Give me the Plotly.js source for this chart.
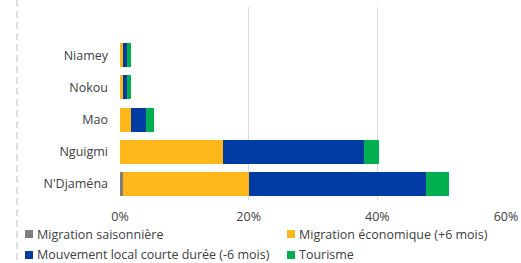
<!DOCTYPE html>
<html><head><meta charset="utf-8">
<script src="https://cdn.plot.ly/plotly-3.0.1.min.js"></script>
<style>html,body{margin:0;padding:0;background:#fff}#chart{width:521px;height:263px}</style>
</head><body><div id="chart"></div>
<script>
// categories listed bottom to top
const categories = ["N'Djaména", "Nguigmi", "Mao", "Nokou", "Niamey"];
const seriesNames = ["Migration saisonnière", "Migration économique (+6 mois)", "Mouvement local courte durée (-6 mois)", "Tourisme"];
const saisonniere = [0.5, 0, 0, 0, 0];
const economique = [19.6, 16.0, 1.7, 0.5, 0.5];
const localCourte = [27.4, 22.0, 2.3, 0.6, 0.6];
const tourisme = [3.6, 2.3, 1.3, 0.6, 0.6];
const xTicks = [0, 20, 40, 60];
const colors = ["#7f7f7f", "#fdb71a", "#003aa3", "#00b050"];

const W = 521, H = 263;
const L = 120, R = 15, T = 7, B = 63;
const font = "Open Sans, Liberation Sans, Arial, sans-serif";
const textColor = "#404040";
const yIdx = categories.map((c, i) => i);
const series = [saisonniere, economique, localCourte, tourisme];

const traces = series.map((vals, k) => ({
  type: 'bar', orientation: 'h', name: seriesNames[k],
  y: yIdx, x: vals, width: 0.75,
  marker: {color: colors[k], line: {width: 0}},
  showlegend: false, hoverinfo: 'skip'
}));

const pw = W - L - R, ph = H - T - B;
const px2x = p => (p - L) / pw;
const px2y = p => 1 - (p - T) / ph;

const shapes = [{
  type: 'line', xref: 'paper', yref: 'paper',
  x0: px2x(17), x1: px2x(17), y0: px2y(0), y1: px2y(263),
  line: {color: '#cccccc', width: 1.2, dash: '7px,4px'}
}];
const annotations = [];
const legendPos = [[25, 234], [287, 234], [25, 255], [287, 255]];
legendPos.forEach(([lx, ly], k) => {
  shapes.push({type: 'rect', xref: 'paper', yref: 'paper',
    x0: px2x(lx), x1: px2x(lx + 8), y0: px2y(ly - 4), y1: px2y(ly + 4),
    fillcolor: colors[k], line: {width: 0}});
  annotations.push({xref: 'paper', yref: 'paper', x: px2x(lx + 11), y: px2y(ly),
    xanchor: 'left', yanchor: 'middle', showarrow: false, text: seriesNames[k],
    borderpad: 0, font: {family: font, size: 12.5, color: textColor}});
});

const layout = {
  width: W, height: H, margin: {l: L, r: R, t: T, b: B},
  barmode: 'stack', showlegend: false,
  paper_bgcolor: '#fff', plot_bgcolor: '#fff',
  font: {family: font, size: 12.5, color: textColor},
  xaxis: {range: [0, 60], tickvals: xTicks, ticktext: xTicks.map(v => v + '%'),
    showgrid: true, gridcolor: '#d9d9d9', gridwidth: 1.5, zeroline: false,
    showline: false, ticks: '', ticklabelstandoff: 7, fixedrange: true},
  yaxis: {range: [-0.5, 5.5], tickvals: yIdx, ticktext: categories,
    showgrid: false, zeroline: false, showline: false, ticks: '',
    ticklabelstandoff: 11, fixedrange: true},
  shapes: shapes, annotations: annotations
};
Plotly.newPlot('chart', traces, layout, {staticPlot: true});
</script></body></html>
